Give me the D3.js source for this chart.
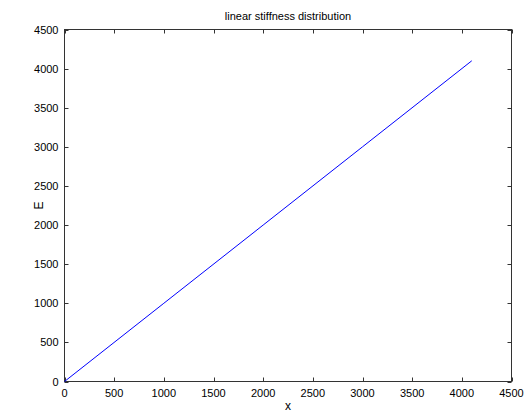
<!DOCTYPE html>
<html>
<head>
<meta charset="utf-8">
<script src="https://cdn.jsdelivr.net/npm/d3@7"></script>
<style>
  html, body { margin: 0; padding: 0; background: #fff; }
  svg { display: block; }
  text { font-family: "Liberation Sans", Arial, sans-serif; fill: #000; }
</style>
</head>
<body>
<svg id="chart" width="527" height="416"></svg>
<script>
// Stiffness E along position x
const xValues = [0, 1000, 2000, 3000, 4100];
const eValues = [0, 1000, 2000, 3000, 4100];
const xTicks = [0, 500, 1000, 1500, 2000, 2500, 3000, 3500, 4000, 4500];
const yTicks = [0, 500, 1000, 1500, 2000, 2500, 3000, 3500, 4000, 4500];
const titleText = "linear stiffness distribution";
const xLabel = "x";
const yLabel = "E";

const svg = d3.select("#chart");
const m = { left: 64.5, right: 15.5, top: 29.5, bottom: 34.5 };
const W = 527, H = 416;
const iw = W - m.left - m.right, ih = H - m.top - m.bottom;

const x = d3.scaleLinear().domain([0, 4500]).range([m.left, m.left + iw]);
const y = d3.scaleLinear().domain([0, 4500]).range([m.top + ih, m.top]);

const axisColor = "#333";
const tick = 4;

// plot box
svg.append("rect")
  .attr("x", m.left).attr("y", m.top)
  .attr("width", iw).attr("height", ih)
  .attr("fill", "none").attr("stroke", axisColor).attr("stroke-width", 1);

// inward ticks on all four sides
const g = svg.append("g").attr("stroke", axisColor).attr("stroke-width", 1);
xTicks.forEach(t => {
  const px = Math.round(x(t)) + 0.5;
  g.append("line").attr("x1", px).attr("x2", px).attr("y1", m.top + ih).attr("y2", m.top + ih - tick);
  g.append("line").attr("x1", px).attr("x2", px).attr("y1", m.top).attr("y2", m.top + tick);
});
yTicks.forEach(t => {
  const py = Math.round(y(t)) + 0.5;
  g.append("line").attr("x1", m.left).attr("x2", m.left + tick).attr("y1", py).attr("y2", py);
  g.append("line").attr("x1", m.left + iw).attr("x2", m.left + iw - tick).attr("y1", py).attr("y2", py);
});

// tick labels
svg.append("g").selectAll("text").data(xTicks).join("text")
  .attr("x", d => x(d)).attr("y", m.top + ih + 15)
  .attr("text-anchor", "middle").attr("font-size", 11)
  .text(d => d);
svg.append("g").selectAll("text").data(yTicks).join("text")
  .attr("x", m.left - 6).attr("y", d => y(d) + 4)
  .attr("text-anchor", "end").attr("font-size", 11)
  .text(d => d);

// data line
const line = d3.line().x((d, i) => x(xValues[i])).y(d => y(d));
svg.append("path").datum(eValues)
  .attr("d", line)
  .attr("fill", "none").attr("stroke", "#0000ff").attr("stroke-width", 1);

// titles
svg.append("text").attr("x", m.left + iw / 2).attr("y", 20)
  .attr("text-anchor", "middle").attr("font-size", 11).text(titleText);
svg.append("text").attr("x", m.left + iw / 2).attr("y", 410)
  .attr("text-anchor", "middle").attr("font-size", 12).text(xLabel);
svg.append("text")
  .attr("transform", `translate(${43},${m.top + ih / 2}) rotate(-90)`)
  .attr("text-anchor", "middle").attr("font-size", 12).text(yLabel);
</script>
</body>
</html>
